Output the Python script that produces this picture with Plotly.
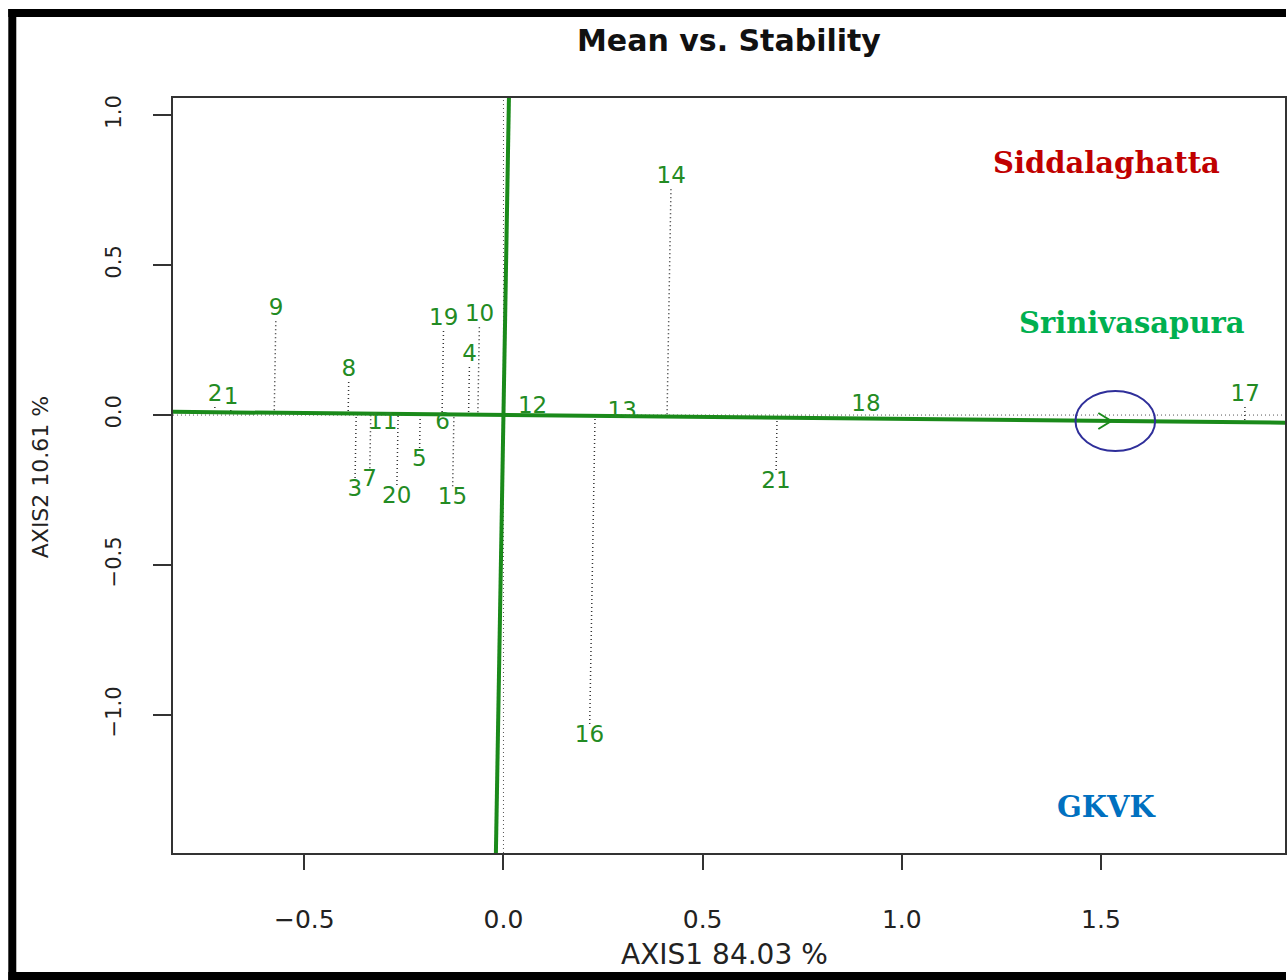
import numpy as np
import plotly.graph_objects as go

# GGE biplot scores (AXIS1, AXIS2) for the 21 genotypes
genotypes = [str(i) for i in range(1, 22)]
axis1 = [-0.684, -0.724, -0.373, -0.085, -0.211, -0.153, -0.336, -0.388, -0.571, -0.060,
         -0.303, 0.073, 0.298, 0.421, -0.128, 0.216, 1.862, 0.910, -0.150, -0.268, 0.684]
axis2 = [0.057, 0.067, -0.250, 0.200, -0.150, -0.027, -0.217, 0.150, 0.353, 0.333,
         -0.027, 0.027, 0.010, 0.793, -0.277, -1.070, 0.067, 0.033, 0.320, -0.273, -0.223]

# average environment coordinate (AEC) and its slope
aec_x = 1.526
aec_slope = -0.013

# environments
env_names = ["Siddalaghatta", "Srinivasapura", "GKVK"]
env_colors = ["#C00000", "#00B050", "#0070C0"]

x_range = [-0.8296, 1.962]
y_range = [-1.46, 1.057]

W, H = 1288, 980
ML, MR, MT, MB = 173, 1, 98, 127
plot_w = W - ML - MR
plot_h = H - MT - MB
px_x = plot_w / (x_range[1] - x_range[0])
px_y = plot_h / (y_range[1] - y_range[0])

GREEN = "#1a8a1a"
LABEL_GREEN = "#238b23"
DOTTED = dict(color="#333333", width=1.5, dash="1px,3px")

fig = go.Figure()

m = aec_slope
# projection lines from each genotype onto the AEC abscissa
gap_px = 12
for gx, gy in zip(axis1, axis2):
    t = (gx + m * gy) / (1 + m * m)
    qx, qy = t, m * t
    d = abs(gy - qy) * px_y
    if d <= gap_px + 1:
        continue
    f = gap_px / d
    sx = gx + (qx - gx) * f
    sy = gy + (qy - gy) * f
    fig.add_trace(go.Scatter(x=[sx, qx], y=[sy, qy], mode="lines", line=DOTTED,
                             hoverinfo="skip", showlegend=False))

# AEC abscissa and ordinate
xa = np.array(x_range)
fig.add_trace(go.Scatter(x=xa, y=m * xa, mode="lines",
                         line=dict(color=GREEN, width=4), hoverinfo="skip", showlegend=False))
ya = np.array(y_range)
fig.add_trace(go.Scatter(x=-m * ya, y=ya, mode="lines",
                         line=dict(color=GREEN, width=4), hoverinfo="skip", showlegend=False))

# open arrowhead on the AEC abscissa
tip_x, tip_y = aec_x, m * aec_x
back = 13 / px_x
side = 8 / px_y
fig.add_trace(go.Scatter(x=[tip_x - back, tip_x, tip_x - back],
                         y=[tip_y + side, tip_y, tip_y - side], mode="lines",
                         line=dict(color=GREEN, width=2), hoverinfo="skip", showlegend=False))

# genotype labels
fig.add_trace(go.Scatter(x=axis1, y=axis2, mode="text", text=genotypes,
                         textposition="middle center",
                         textfont=dict(family="DejaVu Sans", size=23, color=LABEL_GREEN),
                         hoverinfo="skip", showlegend=False))

shapes = [
    # reference lines through the origin
    dict(type="line", xref="x", yref="paper", x0=0, x1=0, y0=0, y1=1,
         line=dict(color="#555555", width=1, dash="1px,3px"), layer="below"),
    dict(type="line", xref="paper", yref="y", x0=0, x1=1, y0=0, y1=0,
         line=dict(color="#555555", width=1, dash="1px,3px"), layer="below"),
    # ring around the average environment
    dict(type="circle", xref="x", yref="y",
         x0=aec_x - 0.09, x1=aec_x + 0.11, y0=tip_y - 0.1, y1=tip_y + 0.1,
         line=dict(color="#2f2f9a", width=2)),
]


def px2paper(px, py):
    return (px - ML) / plot_w, (H - MB - py) / plot_h


# outer black frame (top, left, bottom bands)
for (x0, y0, x1, y1) in [(8, 9, W, 17), (8, 9, 16, H), (8, 972, W, H)]:
    a0, b0 = px2paper(x0, y0)
    a1, b1 = px2paper(x1, y1)
    shapes.append(dict(type="rect", xref="paper", yref="paper", x0=a0, x1=a1, y0=b1, y1=b0,
                       fillcolor="black", line=dict(width=0), layer="above"))

annotations = []
tx, ty = px2paper(730, 41)
annotations.append(dict(text="<b>Mean vs. Stability</b>", xref="paper", yref="paper",
                        x=tx, y=ty, showarrow=False, xanchor="center", yanchor="middle",
                        font=dict(family="DejaVu Sans", size=30, color="#111111")))
ax1x, ax1y = px2paper(725, 955)
annotations.append(dict(text="AXIS1 84.03 %", xref="paper", yref="paper", x=ax1x, y=ax1y,
                        showarrow=False, xanchor="center", yanchor="middle",
                        font=dict(family="DejaVu Sans", size=28, color="#222222")))
ax2x, ax2y = px2paper(40, 477)
annotations.append(dict(text="AXIS2 10.61 %", xref="paper", yref="paper", x=ax2x, y=ax2y,
                        showarrow=False, xanchor="center", yanchor="middle", textangle=-90,
                        font=dict(family="DejaVu Sans", size=22, color="#222222")))

env_pos = [(1108, 163), (1134, 323), (1108, 807)]
for name, col, (ex, ey) in zip(env_names, env_colors, env_pos):
    ax, ay = px2paper(ex, ey)
    annotations.append(dict(text=f"<b>{name}</b>", xref="paper", yref="paper", x=ax, y=ay,
                            showarrow=False, xanchor="center", yanchor="middle",
                            font=dict(family="DejaVu Serif", size=29, color=col)))

axis_common = dict(showgrid=False, zeroline=False, showline=True, mirror=True,
                   linecolor="#333333", linewidth=1.5, ticks="outside", tickwidth=1.5,
                   tickcolor="#333333")

fig.update_layout(
    width=W, height=H,
    margin=dict(l=ML, r=MR, t=MT, b=MB),
    paper_bgcolor="white", plot_bgcolor="white",
    xaxis=dict(range=x_range, tickvals=[-0.5, 0, 0.5, 1.0, 1.5],
               ticktext=["\u22120.5", "0.0", "0.5", "1.0", "1.5"],
               ticklen=15, ticklabelstandoff=28,
               tickfont=dict(family="DejaVu Sans", size=25, color="#222222"), **axis_common),
    yaxis=dict(range=y_range, tickvals=[-1.0, -0.5, 0, 0.5, 1.0],
               ticktext=["\u22121.0", "\u22120.5", "0.0", "0.5", "1.0"],
               ticklen=18, tickangle=-90, ticklabelstandoff=24,
               tickfont=dict(family="DejaVu Sans", size=21, color="#222222"), **axis_common),
    shapes=shapes,
    annotations=annotations,
)

fig.write_html("out.html")
